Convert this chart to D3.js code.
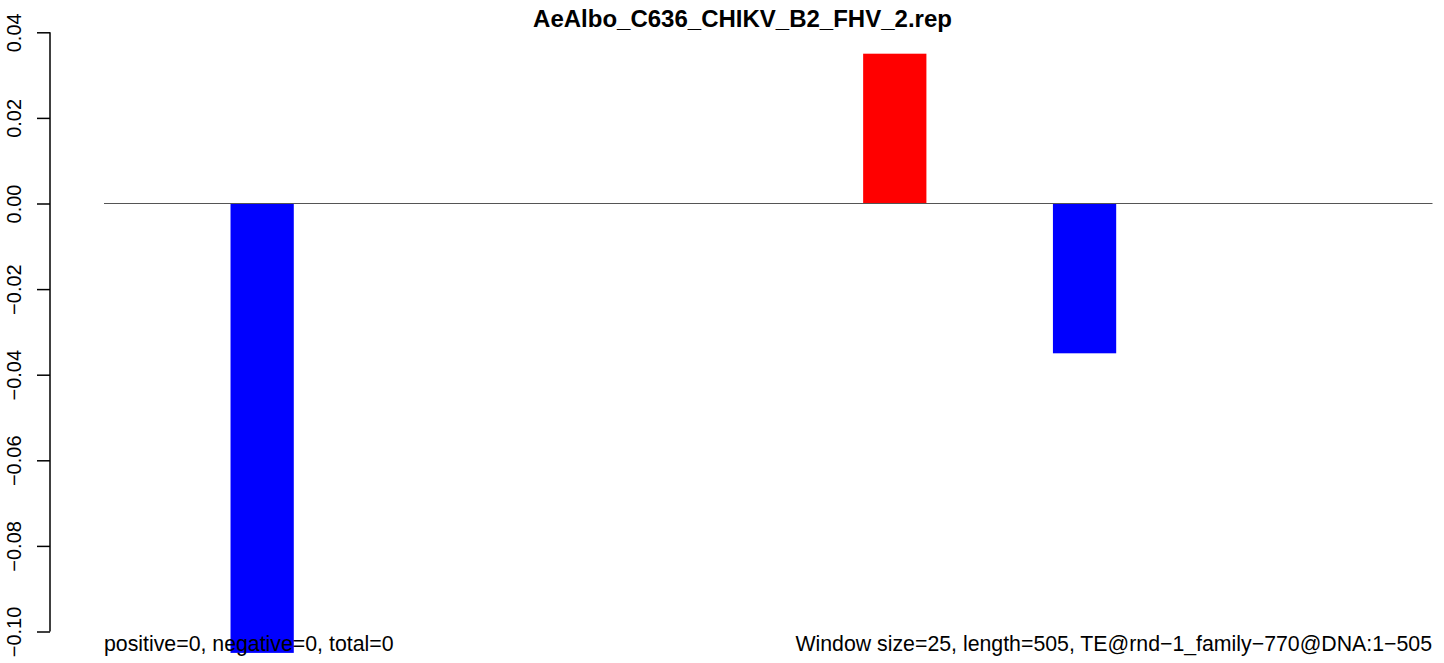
<!DOCTYPE html>
<html><head><meta charset="utf-8">
<script src="https://cdn.jsdelivr.net/npm/d3@7"></script>
<style>body{margin:0;background:#fff}svg{display:block}text{font-family:"Liberation Sans",Arial,Helvetica,sans-serif}</style>
</head><body>
<script>
const title = "AeAlbo_C636_CHIKV_B2_FHV_2.rep";
const windows = d3.range(1, 22);
const values = [0,0,-0.105,0,0,0,0,0,0,0,0,0,0.035,0,0,-0.035,0,0,0,0,0];
const yTicks = [-0.10,-0.08,-0.06,-0.04,-0.02,0.00,0.02,0.04];
const leftNote = "positive=0, negative=0, total=0";
const rightNote = "Window size=25, length=505, TE@rnd\u22121_family\u2212770@DNA:1\u2212505";

const W = 1444, H = 663;
const svg = d3.select("body").append("svg").attr("width", W).attr("height", H);

const x = d3.scaleBand().domain(windows).range([104, 1432.5]).padding(0);
const y = d3.scaleLinear().domain([-0.10, 0.04]).range([631.5, 32.3]);

svg.append("g").selectAll("rect").data(values.map((v,i)=>({w:windows[i], v})).filter(d=>d.v!==0))
  .enter().append("rect")
  .attr("x", d => x(d.w))
  .attr("width", x.bandwidth())
  .attr("y", d => y(Math.max(0, d.v)))
  .attr("height", d => Math.abs(y(d.v) - y(0)))
  .attr("fill", d => d.v > 0 ? "#ff0000" : "#0000ff");

svg.append("line").attr("x1", 104).attr("x2", 1432.5).attr("y1", y(0)).attr("y2", y(0))
  .attr("stroke", "#555").attr("stroke-width", 1);

const fmt = d => d3.format(".2f")(d).replace("-", "\u2212");
const ax = svg.append("g").attr("transform", "translate(50,0)")
  .call(d3.axisLeft(y).tickValues(yTicks).tickSize(13).tickPadding(0).tickFormat(fmt));
ax.select(".domain").attr("stroke", "#000").attr("stroke-width", 1.5).attr("d", `M0,${y(-0.10)}V${y(0.04)}`);
ax.selectAll(".tick line").attr("stroke", "#000").attr("stroke-width", 1.5);
ax.selectAll(".tick text").attr("x", 0).attr("dy", 0)
  .attr("transform", "translate(-29,0) rotate(-90)")
  .attr("text-anchor", "middle").attr("font-size", 20).attr("fill", "#000")
  .style("font-family", "Liberation Sans, Arial, sans-serif");

svg.append("text").attr("x", 742.5).attr("y", 27).attr("text-anchor", "middle")
  .attr("font-size", 24).attr("font-weight", "bold").text(title);

svg.append("text").attr("x", 104).attr("y", 651).attr("font-size", 21.3).text(leftNote);
svg.append("text").attr("x", 1432).attr("y", 651).attr("text-anchor", "end").attr("font-size", 21.3).text(rightNote);
</script>
</body></html>
